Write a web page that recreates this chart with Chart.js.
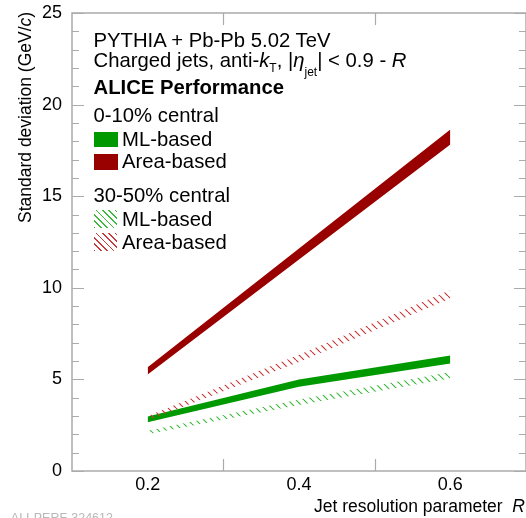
<!DOCTYPE html>
<html>
<head>
<meta charset="utf-8">
<script src="https://cdn.jsdelivr.net/npm/chart.js"></script>
<style>
  html, body { margin: 0; padding: 0; background: #fff; }
  #wrap { position: relative; width: 526px; height: 518px; overflow: hidden; font-family: "Liberation Sans", Arial, sans-serif; }
  #wrap canvas { position: absolute; left: 0; top: 0; }
  .txt { position: absolute; white-space: nowrap; line-height: 1; color: #000; }
  .leg { font-size: 20.3px; left: 93.5px; }
  .sw { position: absolute; }
  .sub { font-size: 12px; position: relative; }
</style>
</head>
<body>
<div id="wrap">
  <canvas id="grafico" width="526" height="518"></canvas>

  <div class="txt leg" style="top:29.6px">PYTHIA + Pb-Pb 5.02 TeV</div>
  <div class="txt leg" style="top:49.6px">Charged jets, anti-<i>k</i><span class="sub" style="top:5px">T</span>, |<i>η</i><span class="sub" style="top:9px">jet</span>| &lt; 0.9 - <i>R</i></div>
  <div class="txt leg" style="top:76.9px;font-weight:bold">ALICE Performance</div>
  <div class="txt leg" style="top:104.6px">0-10% central</div>
  <div class="sw" style="left:94px;top:132px;width:24px;height:15px;background:#009a00"></div>
  <div class="txt leg" style="top:128.6px;left:122px">ML-based</div>
  <div class="sw" style="left:94px;top:154px;width:24px;height:16px;background:#990000"></div>
  <div class="txt leg" style="top:151.2px;left:122px">Area-based</div>
  <div class="txt leg" style="top:184.9px">30-50% central</div>
  <div class="sw" style="left:94px;top:210px;width:23px;height:18px;background:repeating-linear-gradient(45deg,#3fb83f 0 1.2px,transparent 1.2px 4.5px)"></div>
  <div class="txt leg" style="top:208.6px;left:122px">ML-based</div>
  <div class="sw" style="left:94px;top:233px;width:23px;height:18px;background:repeating-linear-gradient(45deg,#c83c3c 0 1.2px,transparent 1.2px 4.5px)"></div>
  <div class="txt leg" style="top:231.9px;left:122px">Area-based</div>

  <div class="txt" style="font-size:17.5px;left:0;top:0;transform-origin:0 0;transform:translate(17px,223px) rotate(-90deg)">Standard deviation (GeV/<i>c</i>)</div>
  <div class="txt" style="font-size:17.5px;right:1px;top:498px">Jet resolution parameter&nbsp; <i>R</i></div>
  <div class="txt" style="font-size:12.5px;left:10.8px;top:511.7px;color:#b8b8b8">ALI-PERF-324612</div>
</div>

<script>
// Datos
const radios = [0.2, 0.4, 0.6];
const mlCentralBajo = [2.66, 4.60, 5.87];
const mlCentralAlto = [2.98, 4.99, 6.31];
const areaCentralBajo = [5.27, 11.55, 17.82];
const areaCentralAlto = [5.66, 12.15, 18.64];
const mlSemiBajo = [2.00, 3.60, 5.05];
const mlSemiAlto = [2.20, 3.90, 5.40];
const areaSemiBajo = [2.75, 5.95, 9.42];
const areaSemiAlto = [3.00, 6.35, 9.88];

// Ticks
const xEtiquetas = [0.2, 0.4, 0.6];
const xMarcas = [0.3, 0.5];
const yMarcas = [0, 1, 2, 3, 4, 5, 6, 7, 8, 9, 10, 11, 12, 13, 14, 15, 16, 17, 18, 19, 20, 21, 22, 23, 24, 25];

const fuente = '"Liberation Sans", Arial, sans-serif';

function puntos(valores) {
    return radios.map((r, i) => ({ x: r, y: valores[i] }));
}

// Patron rayado para 30-50%
function rayado(color) {
    const c = document.createElement('canvas');
    c.width = 8;
    c.height = 8;
    const g = c.getContext('2d');
    g.strokeStyle = color;
    g.lineWidth = 1.2;
    [-8, 0, 8].forEach(x0 => {
        g.beginPath();
        g.moveTo(x0, 0);
        g.lineTo(x0 + 8, 8);
        g.stroke();
    });
    return g.createPattern(c, 'repeat');
}

const ctx = document.getElementById('grafico').getContext('2d');

function banda(nombre, bajo, alto, relleno) {
    const base = { pointRadius: 0, borderWidth: 0, tension: 0 };
    return [
        { ...base, label: nombre + ' bajo', data: puntos(bajo), fill: false },
        { ...base, label: nombre, data: puntos(alto), fill: '-1', backgroundColor: relleno }
    ];
}

// Marco y ticks interiores estilo ROOT
const marco = {
    id: 'marco',
    afterDraw(chart) {
        const { ctx, chartArea: a, scales: { x, y } } = chart;
        ctx.save();
        ctx.strokeStyle = '#ababab';
        ctx.lineWidth = 1.5;
        ctx.strokeRect(a.left, a.top, a.right - a.left, a.bottom - a.top);
        ctx.lineWidth = 1.2;
        ctx.beginPath();
        yMarcas.forEach(v => {
            const py = Math.round(y.getPixelForValue(v)) + 0.5;
            const l = v % 5 === 0 ? 12 : 7;
            ctx.moveTo(a.left, py); ctx.lineTo(a.left + l, py);
            ctx.moveTo(a.right, py); ctx.lineTo(a.right - l, py);
        });
        xMarcas.forEach(v => {
            const px = Math.round(x.getPixelForValue(v)) + 0.5;
            ctx.moveTo(px, a.bottom); ctx.lineTo(px, a.bottom - 12);
            ctx.moveTo(px, a.top); ctx.lineTo(px, a.top + 12);
        });
        ctx.stroke();
        ctx.restore();
    }
};

new Chart(ctx, {
    type: 'line',
    data: {
        datasets: [
            ...banda('Area-based 30-50%', areaSemiBajo, areaSemiAlto, rayado('#c83c3c')),
            ...banda('ML-based 30-50%', mlSemiBajo, mlSemiAlto, rayado('#3fb83f')),
            ...banda('ML-based 0-10%', mlCentralBajo, mlCentralAlto, '#009a00'),
            ...banda('Area-based 0-10%', areaCentralBajo, areaCentralAlto, '#990000')
        ]
    },
    options: {
        responsive: false,
        animation: false,
        layout: { padding: { top: 13, right: 0, bottom: 0, left: 0 } },
        plugins: { legend: { display: false }, tooltip: { enabled: false } },
        scales: {
            x: {
                type: 'linear',
                min: 0.1,
                max: 0.7,
                grid: { display: false },
                border: { display: false },
                afterBuildTicks: s => { s.ticks = xEtiquetas.map(v => ({ value: v })); },
                afterFit: s => { s.height = 47; },
                ticks: {
                    padding: -5,
                    color: '#000',
                    font: { family: fuente, size: 18 },
                    callback: v => v.toFixed(1)
                }
            },
            y: {
                min: 0,
                max: 25,
                grid: { display: false },
                border: { display: false },
                afterFit: s => { s.width = 72; },
                ticks: {
                    stepSize: 5,
                    padding: 2,
                    color: '#000',
                    font: { family: fuente, size: 18 }
                }
            }
        }
    },
    plugins: [marco]
});
</script>
</body>
</html>
